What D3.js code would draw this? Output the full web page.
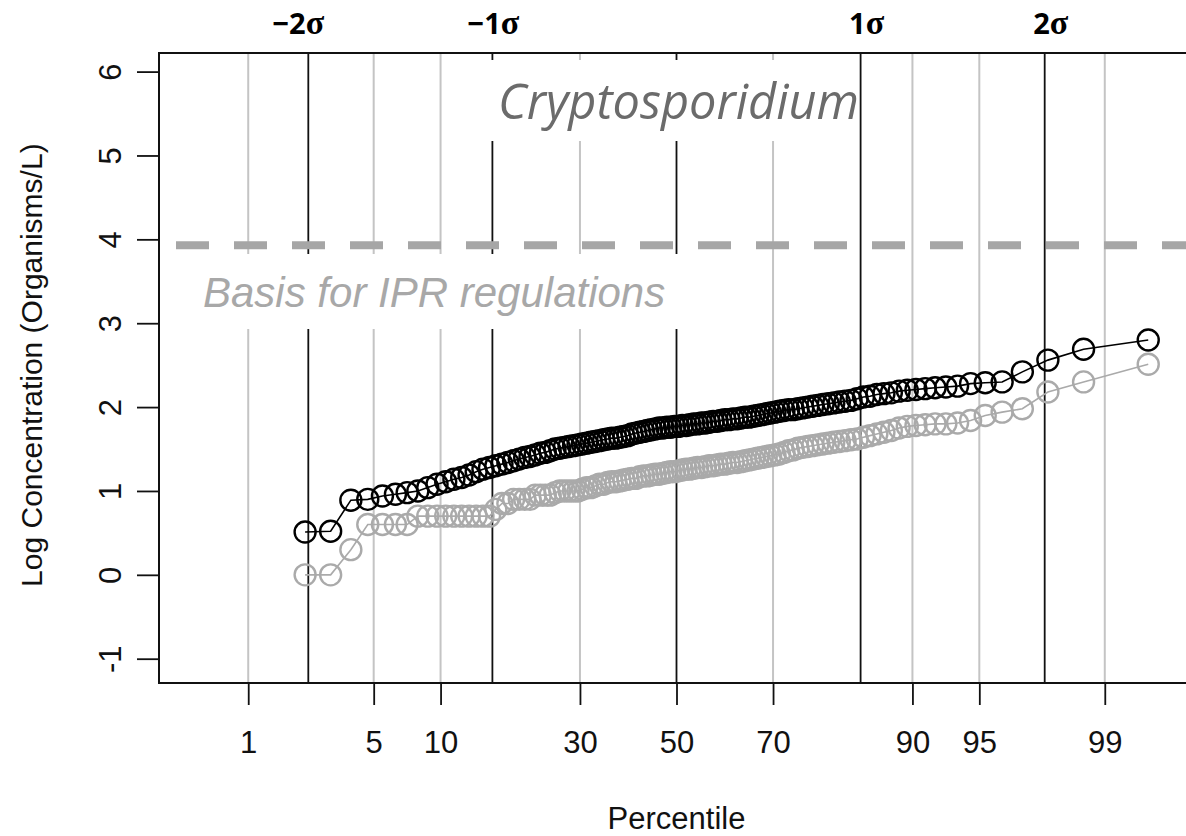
<!DOCTYPE html>
<html>
<head>
<meta charset="utf-8">
<script src="https://cdn.jsdelivr.net/npm/d3@7"></script>
<style>
  html, body { margin: 0; padding: 0; background: #fff; }
  svg { display: block; }
</style>
</head>
<body>
<svg id="chart" width="1186" height="836"></svg>
<script>
// sample size and first plotted rank (ranks 1-2 are non-detects, not drawn)
const sampleSize = 120;
const firstRank = 3;

// log concentration, sorted, one value per rank from firstRank to sampleSize
const cryptoTotal = [
  0.51, 0.52, 0.89, 0.90, 0.94, 0.96, 0.98, 1.00, 1.04, 1.08,
  1.11, 1.14, 1.16, 1.19, 1.23, 1.26, 1.28, 1.30, 1.32, 1.34,
  1.36, 1.38, 1.40, 1.41, 1.43, 1.45, 1.46, 1.48, 1.50, 1.51,
  1.52, 1.53, 1.54, 1.55, 1.56, 1.57, 1.58, 1.59, 1.60, 1.61,
  1.62, 1.63, 1.63, 1.64, 1.65, 1.66, 1.68, 1.69, 1.70, 1.71,
  1.72, 1.73, 1.74, 1.75, 1.75, 1.76, 1.76, 1.77, 1.77, 1.78,
  1.78, 1.79, 1.80, 1.80, 1.81, 1.81, 1.82, 1.83, 1.83, 1.84,
  1.85, 1.85, 1.86, 1.86, 1.87, 1.88, 1.88, 1.89, 1.90, 1.91,
  1.92, 1.93, 1.94, 1.95, 1.96, 1.97, 1.97, 1.98, 1.99, 2.00,
  2.01, 2.02, 2.03, 2.04, 2.05, 2.06, 2.07, 2.08, 2.10, 2.12,
  2.13, 2.15, 2.16, 2.17, 2.19, 2.20, 2.21, 2.22, 2.23, 2.24,
  2.25, 2.28, 2.29, 2.30, 2.42, 2.56, 2.69, 2.80
];
const cryptoGray = [
  0.00, 0.00, 0.30, 0.60, 0.60, 0.60, 0.60, 0.70, 0.70, 0.70,
  0.70, 0.70, 0.70, 0.70, 0.70, 0.70, 0.70, 0.78, 0.85, 0.85,
  0.90, 0.90, 0.90, 0.90, 0.95, 0.95, 0.95, 0.95, 0.98, 1.00,
  1.00, 1.00, 1.00, 1.00, 1.02, 1.04, 1.04, 1.06, 1.08, 1.08,
  1.10, 1.11, 1.11, 1.12, 1.13, 1.14, 1.15, 1.15, 1.17, 1.18,
  1.18, 1.19, 1.20, 1.20, 1.21, 1.22, 1.23, 1.23, 1.24, 1.25,
  1.26, 1.26, 1.27, 1.28, 1.28, 1.29, 1.30, 1.30, 1.31, 1.32,
  1.32, 1.33, 1.34, 1.34, 1.35, 1.36, 1.37, 1.38, 1.39, 1.40,
  1.41, 1.42, 1.43, 1.44, 1.46, 1.48, 1.49, 1.51, 1.52, 1.53,
  1.54, 1.55, 1.56, 1.57, 1.58, 1.59, 1.60, 1.61, 1.62, 1.64,
  1.66, 1.68, 1.70, 1.72, 1.75, 1.77, 1.78, 1.79, 1.80, 1.80,
  1.81, 1.84, 1.90, 1.94, 1.98, 2.18, 2.30, 2.51
];

const percentTicks = [1, 5, 10, 30, 50, 70, 90, 95, 99];
const sigmaTicks = [-2, -1, 0, 1, 2];
const sigmaLabels = ["\u22122", "\u22121", "", "1", "2"];
const yTicks = [-1, 0, 1, 2, 3, 4, 5, 6];
const iprLevel = 3.93;

// inverse standard normal (Acklam)
function qnorm(p) {
  const a = [-39.69683028665376, 220.9460984245205, -275.9285104469687, 138.3577518672690, -30.66479806614716, 2.506628277459239];
  const b = [-54.47609879822406, 161.5858368580409, -155.6989798598866, 66.80131188771972, -13.28068155288572];
  const c = [-0.007784894002430293, -0.3223964580411365, -2.400758277161838, -2.549732539343734, 4.374664141464968, 2.938163982698783];
  const d = [0.007784695709041462, 0.3224671290700398, 2.445134137142996, 3.754408661907416];
  const pl = 0.02425;
  let q, r;
  if (p < pl) {
    q = Math.sqrt(-2 * Math.log(p));
    return (((((c[0]*q+c[1])*q+c[2])*q+c[3])*q+c[4])*q+c[5]) / ((((d[0]*q+d[1])*q+d[2])*q+d[3])*q+1);
  }
  if (p > 1 - pl) {
    q = Math.sqrt(-2 * Math.log(1 - p));
    return -(((((c[0]*q+c[1])*q+c[2])*q+c[3])*q+c[4])*q+c[5]) / ((((d[0]*q+d[1])*q+d[2])*q+d[3])*q+1);
  }
  q = p - 0.5; r = q * q;
  return (((((a[0]*r+a[1])*r+a[2])*r+a[3])*r+a[4])*r+a[5])*q / (((((b[0]*r+b[1])*r+b[2])*r+b[3])*r+b[4])*r+1);
}

// Blom plotting position for each rank
const toPoints = (vals) => vals.map((v, k) => {
  const rank = firstRank + k;
  return { z: qnorm((rank - 0.375) / (sampleSize + 0.25)), v: v };
});

const svg = d3.select("#chart");
const font = "'Liberation Sans', Arial, sans-serif";

const plotLeft = 159, plotRight = 1194, plotTop = 53, plotBottom = 683;

const x = d3.scaleLinear().domain([-2.811, 2.811]).range([plotLeft, plotRight]);
const y = d3.scaleLinear().domain([-1, 6]).range([658.7, 71.6]);

// percentile grid lines (gray)
svg.append("g")
  .selectAll("line")
  .data(percentTicks.filter((p) => p !== 50))
  .enter()
  .append("line")
  .attr("x1", (p) => x(qnorm(p / 100)))
  .attr("x2", (p) => x(qnorm(p / 100)))
  .attr("y1", plotTop)
  .attr("y2", plotBottom)
  .attr("stroke", "#c4c4c4")
  .attr("stroke-width", 2);

// sigma lines (black)
svg.append("g")
  .selectAll("line")
  .data(sigmaTicks)
  .enter()
  .append("line")
  .attr("x1", (s) => x(s))
  .attr("x2", (s) => x(s))
  .attr("y1", plotTop)
  .attr("y2", plotBottom)
  .attr("stroke", "#111")
  .attr("stroke-width", 1.8);

// sigma labels on top
const sigmaDx = [-10, 1, 0, 6, 6];
const sl = svg.append("g")
  .selectAll("text")
  .data(sigmaTicks.filter((s) => s !== 0))
  .enter()
  .append("text")
  .attr("x", (s) => x(s) + sigmaDx[sigmaTicks.indexOf(s)])
  .attr("y", 34)
  .attr("text-anchor", "middle")
  .attr("font-family", "'Open Sans', sans-serif")
  .attr("font-weight", "bold")
  .attr("font-size", 29)
  .attr("fill", "#000");
sl.append("tspan").text((s) => sigmaLabels[sigmaTicks.indexOf(s)]);
sl.append("tspan")
  .attr("font-family", "'Liberation Serif', 'DejaVu Serif', serif")
  .attr("font-size", 34)
  .text("\u03c3");

// title with white backing
svg.append("rect")
  .attr("x", 487).attr("y", 60).attr("width", 371).attr("height", 81)
  .attr("fill", "#fff");
svg.append("text")
  .attr("x", 498)
  .attr("y", 119)
  .attr("font-family", "'Open Sans', sans-serif")
  .attr("font-style", "italic")
  .attr("font-size", 49)
  .attr("textLength", 361)
  .attr("lengthAdjust", "spacingAndGlyphs")
  .attr("fill", "#6b6b6b")
  .text("Cryptosporidium");

// regulation label with white backing
svg.append("rect")
  .attr("x", 196).attr("y", 254).attr("width", 486).attr("height", 75)
  .attr("fill", "#fff");
svg.append("text")
  .attr("x", 203)
  .attr("y", 307)
  .attr("font-family", font)
  .attr("font-style", "italic")
  .attr("font-size", 42)
  .attr("fill", "#a8a8a8")
  .text("Basis for IPR regulations");

// dashed regulation line
svg.append("line")
  .attr("x1", 176)
  .attr("x2", 1186)
  .attr("y1", y(iprLevel))
  .attr("y2", y(iprLevel))
  .attr("stroke", "#a6a6a6")
  .attr("stroke-width", 8)
  .attr("stroke-dasharray", "33,25");

// series
const series = [
  { pts: toPoints(cryptoGray), color: "#aaaaaa" },
  { pts: toPoints(cryptoTotal), color: "#000" },
];
const line = d3.line().x((d) => x(d.z)).y((d) => y(d.v));

series.forEach((s) => {
  const g = svg.append("g");
  g.append("path")
    .datum(s.pts)
    .attr("d", line)
    .attr("fill", "none")
    .attr("stroke", s.color)
    .attr("stroke-width", 1.6);
  g.selectAll("circle")
    .data(s.pts)
    .enter()
    .append("circle")
    .attr("cx", (d) => x(d.z))
    .attr("cy", (d) => y(d.v))
    .attr("r", 10.5)
    .attr("fill", "none")
    .attr("stroke", s.color)
    .attr("stroke-width", 2.4);
});

// plot box
svg.append("path")
  .attr("d", `M${plotRight},${plotTop}H${plotLeft}V${plotBottom}H${plotRight}`)
  .attr("fill", "none")
  .attr("stroke", "#111")
  .attr("stroke-width", 2);

// x axis
const xAxis = svg.append("g")
  .attr("transform", `translate(0,${plotBottom})`)
  .call(
    d3.axisBottom(x)
      .tickValues(percentTicks.map((p) => qnorm(p / 100)))
      .tickFormat((d, i) => percentTicks[i])
      .tickSize(22)
      .tickSizeOuter(0)
      .tickPadding(26)
  );
xAxis.select(".domain").remove();
xAxis.selectAll("line").attr("stroke", "#111").attr("stroke-width", 1.8);
xAxis.selectAll("text")
  .attr("font-family", font)
  .attr("font-size", 31)
  .attr("fill", "#111");

// y axis
const yAxis = svg.append("g")
  .attr("transform", `translate(${plotLeft},0)`)
  .call(
    d3.axisLeft(y)
      .tickValues(yTicks)
      .tickFormat((d) => String(d))
      .tickSize(22)
      .tickSizeOuter(0)
  );
yAxis.select(".domain").remove();
yAxis.selectAll("line").attr("stroke", "#111").attr("stroke-width", 1.8);
yAxis.selectAll("text")
  .attr("x", null)
  .attr("dy", null)
  .attr("text-anchor", "middle")
  .attr("transform", "translate(-38,0) rotate(-90)")
  .attr("font-family", font)
  .attr("font-size", 31)
  .attr("fill", "#111");

// axis titles
svg.append("text")
  .attr("x", x(0))
  .attr("y", 829)
  .attr("text-anchor", "middle")
  .attr("font-family", font)
  .attr("font-size", 31)
  .attr("fill", "#111")
  .text("Percentile");

svg.append("text")
  .attr("transform", `translate(42,${(y(-1) + y(6)) / 2}) rotate(-90)`)
  .attr("text-anchor", "middle")
  .attr("font-family", font)
  .attr("font-size", 30)
  .attr("fill", "#111")
  .text("Log Concentration (Organisms/L)");
</script>
</body>
</html>
